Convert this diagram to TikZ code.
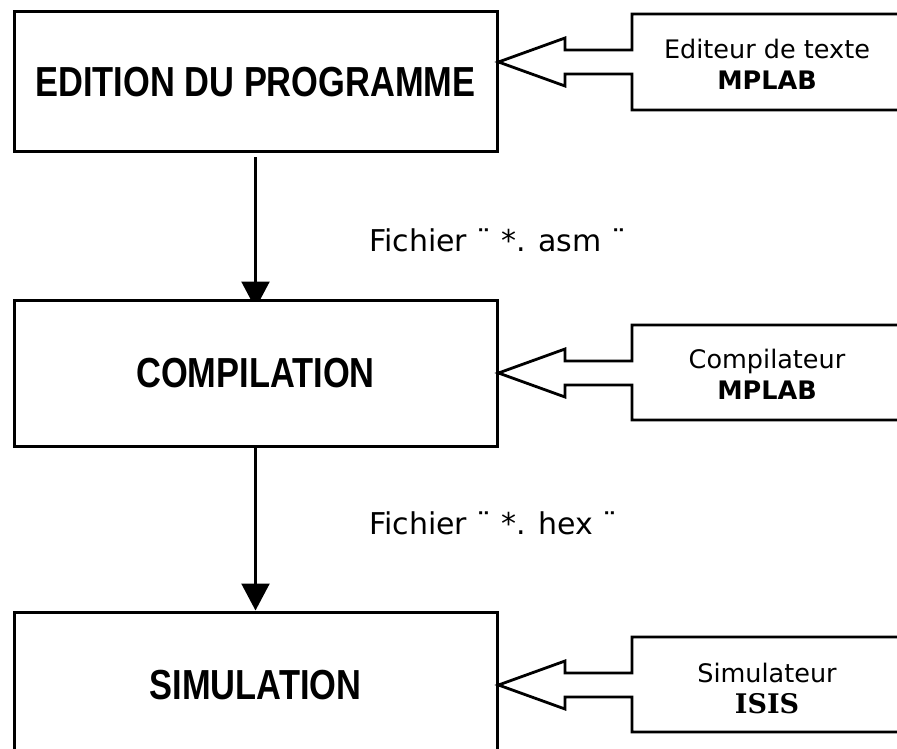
\documentclass[tikz,border=0pt]{standalone}
\usepackage{fontspec}
\setmainfont{DejaVu Sans}
\newfontfamily\headfont[FakeStretch=0.82]{Liberation Sans}
\newfontfamily\isisfont{DejaVu Serif}
\usetikzlibrary{arrows.meta,backgrounds,calc}

\begin{document}
\begin{tikzpicture}[x=1pt,y=-1pt,
  stage/.style={draw, line width=3pt, fill=white, minimum width=483pt,
    inner sep=0pt, font=\headfont\bfseries\fontsize{42}{48}\selectfont},
  tool/.style={draw, line width=2.8pt, line join=miter},
  tooltext/.style={align=center, inner sep=0pt, font=\fontsize{25.5}{31}\selectfont},
  flow/.style={draw, line width=2.4pt, -{Triangle[length=27pt,width=28pt]}},
  filelabel/.style={anchor=west, inner sep=0pt, font=\fontsize{30}{36}\selectfont}]

\useasboundingbox (0,0) rectangle (897,749);
\clip (0,0) rectangle (897,749);

% the three stages
\node[stage, minimum height=140pt] (s1) at (255.5,82) {EDITION DU PROGRAMME};
\node[stage, minimum height=146pt] (s2) at (255.5,373) {COMPILATION};
\node[stage, minimum height=146pt] (s3) at (255.5,685) {SIMULATION};

% tool boxes with their hollow arrows
\coordinate (y1) at (0,62);
\coordinate (y2) at (0,373);
\coordinate (y3) at (0,685);
\coordinate (t1) at (s1.east |- y1);
\coordinate (t2) at (s2.east |- y2);
\coordinate (t3) at (s3.east |- y3);

\draw[tool] (905,14) -- (632,14) -- (632,50) -- (565,50) -- (565,38) -- (t1)
  -- (565,86) -- (565,74) -- (632,74) -- (632,110) -- (905,110);
\draw[tool] (905,325) -- (632,325) -- (632,361) -- (565,361) -- (565,349) -- (t2)
  -- (565,397) -- (565,385) -- (632,385) -- (632,420) -- (905,420);
\draw[tool] (905,637) -- (632,637) -- (632,673) -- (565,673) -- (565,661) -- (t3)
  -- (565,709) -- (565,697) -- (632,697) -- (632,732) -- (905,732);

\node[tooltext] (k1) at (767,64) {Editeur de texte\\\textbf{MPLAB}};
\node[tooltext] (k2) at (767,374) {Compilateur\\\textbf{MPLAB}};
\node[tooltext] (k3) at (767,688) {Simulateur\\{\isisfont\bfseries\fontsize{27}{31}\selectfont ISIS}};

% file labels
\node[filelabel] (f1) at (369,240) {Fichier ¨ *. asm ¨};
\node[filelabel] (f2) at (369,523) {Fichier ¨ *. hex ¨};

% flow between stages
\begin{pgfonlayer}{background}
\draw[flow] ($(s1.south)+(0,4)$) -- ($(s2.north)+(0,10)$);
\draw[flow] (s2.south) -- (s3.north);
\end{pgfonlayer}
\end{tikzpicture}
\end{document}
